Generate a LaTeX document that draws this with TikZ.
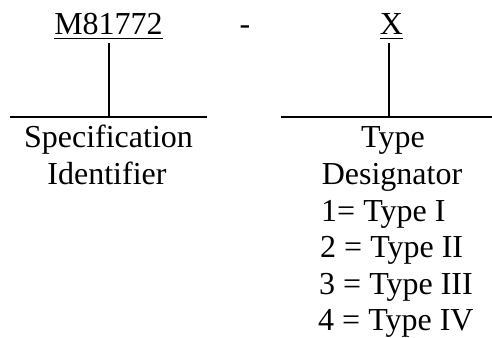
\documentclass[tikz,border=0pt]{standalone}
\usepackage{fontspec}
\setmainfont{Liberation Serif}
\begin{document}
\begin{tikzpicture}[x=1pt,y=-1pt,
  txt/.style={inner sep=0pt, font=\fontsize{32}{37}\selectfont, anchor=base},
  lst/.style={txt, anchor=base west},
  ln/.style={line width=2pt},
  uline/.style={line width=1.5pt}]
\useasboundingbox (0,0) rectangle (492,337);
% top codes
\node[txt] (m) at (108.5,35) {M81772};
\node[txt] (dash) at (245,35) {-};
\node[txt] (x) at (391.5,35) {X};
\draw[uline] ([yshift=-3.5pt]m.base west) -- ([yshift=-3.5pt]m.base east);
\draw[uline] ([yshift=-3.5pt]x.base west) -- ([yshift=-3.5pt]x.base east);
% junction coordinates
\coordinate (mtop) at (108.5,43);
\coordinate (mj) at (108.5,117);
\coordinate (ml) at (10,117);
\coordinate (mr) at (207,117);
\coordinate (xtop) at (389,43);
\coordinate (xj) at (389,117);
\coordinate (xl) at (281,117);
\coordinate (xr) at (492,117);
\draw[ln] (mtop) -- (mj);
\draw[ln] (ml) -- (mr);
\draw[ln] (xtop) -- (xj);
\draw[ln] (xl) -- (xr);
% left labels
\node[txt] (spec) at (108.5,147) {Specification};
\node[txt] (ident) at (107,184) {Identifier};
% right labels
\node[txt] (type) at (393,147) {Type};
\node[txt] (desig) at (392,184) {Designator};
\node[lst] (t1) at (321,221) {1= Type I};
\node[lst] (t2) at (320,257) {2 = Type II};
\node[lst] (t3) at (319,294) {3 = Type III};
\node[lst] (t4) at (318,330) {4 = Type IV};
\end{tikzpicture}
\end{document}
